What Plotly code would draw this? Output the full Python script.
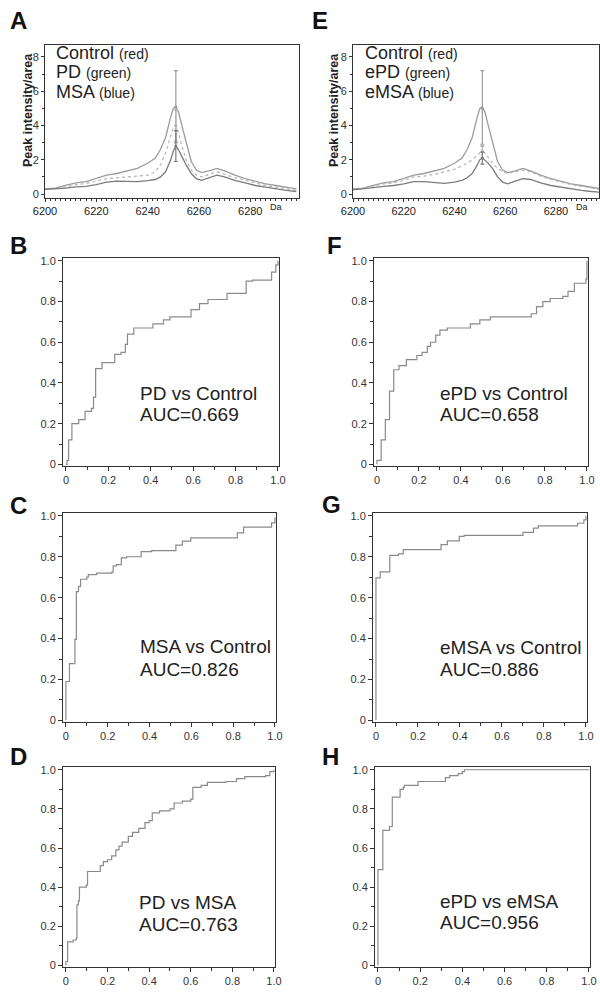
import plotly.graph_objects as go

# ---------------- data ----------------
mass_da = [6200, 6204, 6208, 6212, 6216, 6220, 6224, 6228, 6232, 6236, 6240, 6243, 6245, 6247, 6249,
           6250, 6251, 6252, 6253, 6255, 6257, 6259, 6261, 6264, 6267, 6270, 6274, 6278, 6282, 6286,
           6290, 6294, 6298]
control_int = [0.30, 0.35, 0.50, 0.65, 0.72, 0.90, 1.10, 1.20, 1.35, 1.50, 1.80, 2.10, 2.60, 3.30, 4.50,
               5.00, 5.10, 4.80, 4.20, 3.00, 1.90, 1.40, 1.25, 1.35, 1.50, 1.35, 1.10, 0.90, 0.75, 0.60,
               0.50, 0.40, 0.30]
pd_int = [0.30, 0.32, 0.42, 0.55, 0.62, 0.75, 0.90, 0.95, 1.00, 1.05, 1.10, 1.30, 1.70, 2.40, 3.40,
          3.90, 4.00, 3.60, 3.00, 2.00, 1.40, 1.10, 1.00, 1.15, 1.30, 1.15, 0.95, 0.80, 0.65, 0.50,
          0.40, 0.30, 0.22]
msa_int = [0.28, 0.30, 0.35, 0.42, 0.45, 0.55, 0.70, 0.75, 0.75, 0.72, 0.78, 0.85, 1.00, 1.30, 2.00,
           2.50, 2.80, 2.60, 2.30, 1.70, 1.20, 0.90, 0.80, 0.95, 1.10, 1.00, 0.80, 0.65, 0.50, 0.40,
           0.30, 0.22, 0.15]
epd_int = [0.28, 0.32, 0.45, 0.60, 0.65, 0.80, 1.00, 1.05, 1.15, 1.30, 1.45, 1.65, 1.80, 2.00, 2.30,
           2.40, 2.50, 2.40, 2.20, 1.80, 1.50, 1.30, 1.20, 1.30, 1.40, 1.30, 1.05, 0.85, 0.70, 0.55,
           0.45, 0.35, 0.25]
emsa_int = [0.25, 0.30, 0.38, 0.45, 0.50, 0.60, 0.72, 0.72, 0.65, 0.62, 0.70, 0.80, 0.95, 1.20, 1.70,
            2.00, 2.10, 2.00, 1.85, 1.50, 1.00, 0.70, 0.60, 0.75, 0.90, 0.85, 0.65, 0.50, 0.40, 0.30,
            0.22, 0.15, 0.10]
peak_da = 6251
err_A_mean = [5.1, 4.0, 2.8]
err_A_sd = [2.1, 0.9, 0.9]
err_E_mean = [5.0, 2.5, 2.1]
err_E_sd = [2.2, 0.4, 0.35]

legend_A = ["Control", "PD", "MSA"]
legend_E = ["Control", "ePD", "eMSA"]
legend_colors = ["(red)", "(green)", "(blue)"]

roc_B_fpr = [0, 0.005, 0.0125, 0.028, 0.06, 0.09, 0.12, 0.13, 0.14, 0.17, 0.22, 0.23, 0.26, 0.28, 0.29,
             0.32, 0.38, 0.41, 0.46, 0.49, 0.55, 0.59, 0.63, 0.67, 0.73, 0.76, 0.83, 0.85, 0.88, 0.95,
             0.97, 0.99, 1.0]
roc_B_tpr = [0, 0.02, 0.12, 0.20, 0.22, 0.26, 0.275, 0.33, 0.47, 0.50, 0.50, 0.54, 0.55, 0.59, 0.64,
             0.67, 0.67, 0.69, 0.71, 0.725, 0.725, 0.76, 0.79, 0.81, 0.81, 0.84, 0.84, 0.90, 0.905, 0.905,
             0.945, 0.98, 1.0]

roc_F_fpr = [0, 0, 0.016, 0.02, 0.03, 0.04, 0.055, 0.06, 0.075, 0.08, 0.105, 0.13, 0.14, 0.185, 0.19,
             0.215, 0.24, 0.255, 0.28, 0.30, 0.335, 0.405, 0.445, 0.49, 0.54, 0.70, 0.735, 0.76, 0.79,
             0.825, 0.885, 0.91, 0.935, 0.94, 0.995, 1.0]
roc_F_tpr = [0, 0.02, 0.02, 0.12, 0.12, 0.22, 0.22, 0.36, 0.36, 0.465, 0.485, 0.485, 0.515, 0.515, 0.535,
             0.55, 0.58, 0.60, 0.635, 0.66, 0.67, 0.67, 0.69, 0.71, 0.725, 0.725, 0.74, 0.775, 0.80,
             0.815, 0.825, 0.85, 0.85, 0.89, 0.91, 1.0]

roc_C_fpr = [0, 0, 0.013, 0.017, 0.04, 0.043, 0.047, 0.05, 0.06, 0.07, 0.10, 0.107, 0.147, 0.22, 0.226,
             0.242, 0.265, 0.29, 0.344, 0.36, 0.41, 0.50, 0.526, 0.557, 0.597, 0.787, 0.82, 0.85, 0.96,
             0.984, 1.0]
roc_C_tpr = [0, 0.19, 0.19, 0.277, 0.277, 0.396, 0.396, 0.63, 0.655, 0.69, 0.70, 0.713, 0.72, 0.725,
             0.755, 0.762, 0.795, 0.80, 0.80, 0.825, 0.83, 0.83, 0.857, 0.876, 0.892, 0.892, 0.917,
             0.945, 0.945, 0.966, 0.993]

roc_G_fpr = [0, 0, 0.016, 0.02, 0.063, 0.066, 0.107, 0.13, 0.185, 0.28, 0.31, 0.34, 0.397, 0.42, 0.655,
             0.70, 0.75, 0.773, 0.937, 0.96, 0.99, 1.0]
roc_G_tpr = [0, 0.697, 0.697, 0.726, 0.726, 0.807, 0.814, 0.835, 0.835, 0.835, 0.859, 0.878, 0.90, 0.905,
             0.905, 0.919, 0.94, 0.951, 0.951, 0.964, 0.98, 1.0]

roc_D_fpr = [0, 0, 0.008, 0.035, 0.05, 0.053, 0.06, 0.065, 0.098, 0.104, 0.15, 0.165, 0.18, 0.20, 0.22,
             0.24, 0.255, 0.27, 0.30, 0.32, 0.35, 0.38, 0.40, 0.415, 0.45, 0.50, 0.52, 0.56, 0.60, 0.61,
             0.65, 0.68, 0.77, 0.82, 0.86, 0.96, 0.98, 1.0]
roc_D_tpr = [0, 0.02, 0.12, 0.13, 0.14, 0.31, 0.33, 0.40, 0.41, 0.48, 0.48, 0.51, 0.53, 0.54, 0.56,
             0.59, 0.61, 0.63, 0.66, 0.68, 0.70, 0.73, 0.74, 0.78, 0.79, 0.80, 0.83, 0.84, 0.85, 0.91,
             0.92, 0.935, 0.94, 0.955, 0.965, 0.97, 0.99, 1.0]

roc_H_fpr = [0, 0, 0.02, 0.023, 0.05, 0.055, 0.065, 0.068, 0.10, 0.105, 0.12, 0.125, 0.18, 0.19, 0.31,
             0.32, 0.34, 0.38, 0.40, 0.41, 1.0]
roc_H_tpr = [0, 0.49, 0.49, 0.69, 0.69, 0.71, 0.71, 0.86, 0.86, 0.90, 0.91, 0.92, 0.92, 0.94, 0.94,
             0.96, 0.97, 0.98, 0.99, 1.0, 1.0]

roc_titles = ["PD vs Control", "ePD vs Control", "MSA vs Control", "eMSA vs Control",
              "PD vs MSA", "ePD vs eMSA"]
roc_auc = ["AUC=0.669", "AUC=0.658", "AUC=0.826", "AUC=0.886", "AUC=0.763", "AUC=0.956"]
roc_letters = ["B", "F", "C", "G", "D", "H"]
roc_ticks = [0, 0.2, 0.4, 0.6, 0.8, 1.0]
roc_ticktext = ["0", "0.2", "0.4", "0.6", "0.8", "1.0"]
spec_xticks = [6200, 6220, 6240, 6260, 6280]
spec_yticks = [0, 2, 4, 6, 8]

# ---------------- layout config ----------------
W, H = 600, 993
FONT = "Liberation Sans, Arial, sans-serif"
AX = "#333333"

def px_dom(a, b, total):
    return [a / total, b / total]

def py_dom(top, bottom):
    return [1 - bottom / H, 1 - top / H]

fig = go.Figure()
layout = dict(template="none", width=W, height=H, margin=dict(l=0, r=0, t=0, b=0, pad=0),
              paper_bgcolor="white", plot_bgcolor="white", showlegend=False,
              font=dict(family=FONT, color="#222"))
annotations = []

def axis_common():
    return dict(showline=True, mirror=True, linecolor=AX, linewidth=1, ticks="outside",
                ticklen=4, tickwidth=1, tickcolor=AX, showgrid=False, zeroline=False,
                automargin=False,
                tickfont=dict(family=FONT, size=11, color="#333"))

# --- spectra panels ---
spec_panels = [
    dict(ax="", dom_x=(45, 299), rng=[6200, 6299], series=[control_int, pd_int, msa_int],
         em=err_A_mean, es=err_A_sd, names=legend_A, letter="A", lx=18, legx=54, titlex=28, dax=276),
    dict(ax="2", dom_x=(353, 599), rng=[6200, 6297], series=[control_int, epd_int, emsa_int],
         em=err_E_mean, es=err_E_sd, names=legend_E, letter="E", lx=320, legx=363, titlex=334, dax=582),
]
line_styles = [dict(color="#9c9c9c", width=1.3, dash="solid"),
               dict(color="#b4b4b4", width=1.2, dash="dot"),
               dict(color="#7c7c7c", width=1.3, dash="solid")]
for p in spec_panels:
    xa, ya = "x" + p["ax"], "y" + p["ax"]
    for s, st in zip(p["series"], line_styles):
        fig.add_trace(go.Scatter(x=mass_da, y=s, mode="lines", line=st, xaxis=xa, yaxis=ya,
                                 hoverinfo="skip"))
    for m, sd, st in zip(p["em"], p["es"], line_styles):
        fig.add_trace(go.Scatter(x=[peak_da], y=[m], mode="markers",
                                 marker=dict(size=3, color=st["color"]),
                                 error_y=dict(type="data", array=[sd], color=st["color"],
                                              thickness=1.2, width=2),
                                 xaxis=xa, yaxis=ya, hoverinfo="skip"))
    xk = "xaxis" + p["ax"]
    yk = "yaxis" + p["ax"]
    xd = axis_common()
    xd.update(domain=px_dom(p["dom_x"][0], p["dom_x"][1], W), range=p["rng"], anchor=ya,
              tickvals=spec_xticks, ticklen=3,
              minor=dict(dtick=2, tick0=6200, ticks="outside", ticklen=2, tickcolor=AX),
              tickfont=dict(family=FONT, size=11, color="#222"))
    yd = axis_common()
    yd.update(domain=py_dom(45, 198), range=[-0.23, 8.7], anchor=xa, tickvals=spec_yticks,
              ticklen=3, minor=dict(dtick=1, ticks="outside", ticklen=2, tickcolor=AX))
    layout[xk] = xd
    layout[yk] = yd
    annotations.append(dict(x=p["lx"] / W, y=1 - 20 / H, xref="paper", yref="paper", text="<b>%s</b>" % p["letter"],
                            showarrow=False, font=dict(family=FONT, size=24, color="#111"),
                            xanchor="center", yanchor="middle"))
    for i, (nm, col) in enumerate(zip(p["names"], legend_colors)):
        annotations.append(dict(x=p["legx"] / W, y=1 - (53 + 19.5 * i) / H, xref="paper", yref="paper",
                                text="%s <span style='font-size:14px'>%s</span>" % (nm, col),
                                showarrow=False, font=dict(family=FONT, size=18, color="#222"),
                                xanchor="left", yanchor="middle"))
    annotations.append(dict(x=p["titlex"] / W, y=1 - 110 / H, xref="paper", yref="paper",
                            text="<b>Peak intensity/area</b>", textangle=-90, showarrow=False,
                            font=dict(family=FONT, size=12.5, color="#222"),
                            xanchor="center", yanchor="middle"))
    annotations.append(dict(x=p["dax"] / W, y=1 - 207 / H, xref="paper", yref="paper", text="Da",
                            showarrow=False, font=dict(family=FONT, size=9, color="#222"),
                            xanchor="center", yanchor="middle"))

# --- ROC panels ---
roc_data = [(roc_B_fpr, roc_B_tpr), (roc_F_fpr, roc_F_tpr), (roc_C_fpr, roc_C_tpr),
            (roc_G_fpr, roc_G_tpr), (roc_D_fpr, roc_D_tpr), (roc_H_fpr, roc_H_tpr)]
roc_geom = [  # frame left, right, top, bottom (px), letter x,y, text x, line1 y, line2 y
    (63, 279, 258, 466, 18, 246, 0.34, 0.348, 0.245),
    (374, 588, 258, 466, 334, 246, 0.289, 0.348, 0.245),
    (63, 276, 513, 722, 18, 505, 0.346, 0.362, 0.249),
    (373, 587, 513, 722, 331, 504, 0.297, 0.356, 0.249),
    (63, 275, 767, 967, 18, 756, 0.344, 0.32, 0.21),
    (375, 590, 767, 967, 330, 756, 0.283, 0.328, 0.22),
]
for i, ((fx, fy), g) in enumerate(zip(roc_data, roc_geom)):
    n = str(i + 3)
    xa, ya = "x" + n, "y" + n
    fig.add_trace(go.Scatter(x=fx, y=fy, mode="lines", line_shape="hv",
                             line=dict(color="#8a8a8a", width=1.2), xaxis=xa, yaxis=ya,
                             hoverinfo="skip"))
    l, r, t, b = g[0], g[1], g[2], g[3]
    xd = axis_common()
    xd.update(domain=px_dom(l, r, W), range=[-0.014, 1.005], anchor=ya, tickvals=roc_ticks,
              ticktext=roc_ticktext,
              minor=dict(tickvals=[0.1, 0.3, 0.5, 0.7, 0.9], ticks="outside", ticklen=3, tickcolor=AX))
    yd = axis_common()
    yd.update(domain=py_dom(t, b), range=[-0.008, 1.014], anchor=xa, tickvals=roc_ticks,
              ticktext=roc_ticktext,
              minor=dict(tickvals=[0.1, 0.3, 0.5, 0.7, 0.9], ticks="outside", ticklen=3, tickcolor=AX))
    layout["xaxis" + n] = xd
    layout["yaxis" + n] = yd
    annotations.append(dict(x=g[4] / W, y=1 - g[5] / H, xref="paper", yref="paper",
                            text="<b>%s</b>" % roc_letters[i], showarrow=False,
                            font=dict(family=FONT, size=24, color="#111"),
                            xanchor="center", yanchor="middle"))
    annotations.append(dict(x=g[6], y=g[7], xref=xa, yref=ya, text=roc_titles[i], showarrow=False,
                            font=dict(family=FONT, size=19, color="#222"),
                            xanchor="left", yanchor="middle"))
    annotations.append(dict(x=g[6], y=g[8], xref=xa, yref=ya, text=roc_auc[i], showarrow=False,
                            font=dict(family=FONT, size=19, color="#222"),
                            xanchor="left", yanchor="middle"))

layout["annotations"] = annotations
fig.update_layout(**layout)
fig.write_html("out.html", config={"displayModeBar": False},
               post_script="document.body.style.margin='0';document.body.style.padding='0';"
                           "document.documentElement.style.overflow='hidden';")
